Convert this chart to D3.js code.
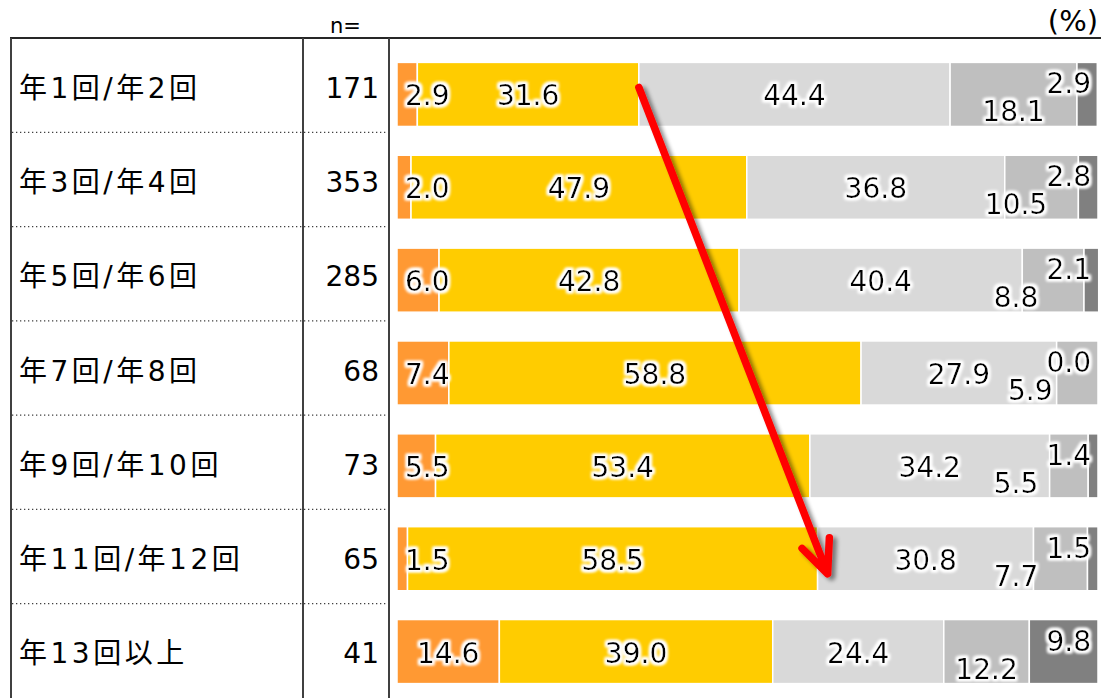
<!DOCTYPE html>
<html lang="ja">
<head>
<meta charset="utf-8">
<script src="https://cdn.jsdelivr.net/npm/d3@7"></script>
<style>
  html, body { margin: 0; padding: 0; background: #fff; }
  svg { display: block; }
  text { font-family: "DejaVu Sans", "Noto Sans CJK JP", sans-serif; }
</style>
</head>
<body>
<svg id="chart" width="1101" height="698"></svg>
<script>
// Purchase frequency groups and their sample sizes
const categories = ["年1回/年2回", "年3回/年4回", "年5回/年6回", "年7回/年8回", "年9回/年10回", "年11回/年12回", "年13回以上"];
const sampleSizes = [171, 353, 285, 68, 73, 65, 41];

// Share of answers (%) per group, one array per stacked segment
const series1 = [2.9, 2.0, 6.0, 7.4, 5.5, 1.5, 14.6];
const series2 = [31.6, 47.9, 42.8, 58.8, 53.4, 58.5, 39.0];
const series3 = [44.4, 36.8, 40.4, 27.9, 34.2, 30.8, 24.4];
const series4 = [18.1, 10.5, 8.8, 5.9, 5.5, 7.7, 12.2];
const series5 = [2.9, 2.8, 2.1, 0.0, 1.4, 1.5, 9.8];

const seriesList = [series1, series2, series3, series4, series5];
const seriesColors = ["#FF9933", "#FFCC00", "#D9D9D9", "#BFBFBF", "#808080"];

const svg = d3.select("#chart");
const W = 1101, H = 698;

const defs = svg.append("defs");
// soft white glow behind value labels
const halo = defs.append("filter").attr("id", "halo")
  .attr("x", "-30%").attr("y", "-50%").attr("width", "160%").attr("height", "200%");
halo.append("feMorphology").attr("in", "SourceAlpha").attr("operator", "dilate").attr("radius", 2).attr("result", "d");
halo.append("feGaussianBlur").attr("in", "d").attr("stdDeviation", 1.6).attr("result", "b");
halo.append("feFlood").attr("flood-color", "#fff");
halo.append("feComposite").attr("in2", "b").attr("operator", "in").attr("result", "glow");
const hm = halo.append("feMerge");
hm.append("feMergeNode").attr("in", "glow");
hm.append("feMergeNode").attr("in", "glow");
hm.append("feMergeNode").attr("in", "SourceGraphic");

// drop shadow for the trend arrow
const shadow = defs.append("filter").attr("id", "shadow")
  .attr("x", "-20%").attr("y", "-10%").attr("width", "140%").attr("height", "120%");
shadow.append("feGaussianBlur").attr("in", "SourceAlpha").attr("stdDeviation", 2.2).attr("result", "sb");
shadow.append("feOffset").attr("in", "sb").attr("dx", 4).attr("dy", 3).attr("result", "so");
shadow.append("feComponentTransfer").attr("in", "so").attr("result", "sa")
  .append("feFuncA").attr("type", "linear").attr("slope", 0.45);
const sm = shadow.append("feMerge");
sm.append("feMergeNode").attr("in", "sa");
sm.append("feMergeNode").attr("in", "SourceGraphic");

// table geometry
const tableTop = 38;
const colLeft = 11, colN = 303, colAxis = 389;

const rowScale = d3.scaleBand().domain(d3.range(categories.length)).range([tableTop, H]);
const barScale = d3.scaleBand().domain(d3.range(categories.length)).range([48, H])
  .paddingInner(0.31).paddingOuter(0.155);
const x = d3.scaleLinear().domain([0, 100]).range([397, 1098]);

// stacked layout
const rows = categories.map((c, i) => {
  let acc = 0;
  return seriesList.map((s, k) => {
    const seg = { row: i, k, v: s[i], x0: acc, x1: acc + s[i] };
    acc += s[i];
    return seg;
  });
});

// bars
const gBars = svg.append("g");
rows.forEach(segs => {
  gBars.selectAll(null).data(segs).enter().append("rect")
    .attr("x", d => x(d.x0))
    .attr("y", d => barScale(d.row))
    .attr("width", d => Math.max(0, x(d.x1) - x(d.x0)))
    .attr("height", barScale.bandwidth())
    .attr("fill", d => seriesColors[d.k])
    .attr("stroke", "#fff")
    .attr("stroke-width", d => d.v > 0 ? 1.5 : 0);
});

// table lines
const gLines = svg.append("g");
gLines.append("line").attr("x1", 10).attr("x2", W).attr("y1", tableTop).attr("y2", tableTop)
  .attr("stroke", "#262626").attr("stroke-width", 1.8);
[colLeft, colN, colAxis].forEach(cx => {
  gLines.append("line").attr("x1", cx).attr("x2", cx).attr("y1", tableTop).attr("y2", H)
    .attr("stroke", "#404040").attr("stroke-width", 2);
});
gLines.selectAll(null).data(d3.range(1, categories.length)).enter().append("line")
  .attr("x1", colLeft + 1).attr("x2", colAxis - 1)
  .attr("y1", d => rowScale(d)).attr("y2", d => rowScale(d))
  .attr("stroke", "#404040").attr("stroke-width", 1.3).attr("stroke-dasharray", "1.3,2.7");

// header texts
svg.append("text").attr("x", 330).attr("y", 33).attr("font-size", 21).attr("fill", "#000").text("n=");
svg.append("text").attr("x", 1098).attr("y", 31).attr("font-size", 29).attr("text-anchor", "end")
  .attr("fill", "#000").text("(%)");

// category and sample size columns
const gTable = svg.append("g");
gTable.selectAll(null).data(categories).enter().append("text")
  .attr("x", 19)
  .attr("y", (d, i) => rowScale(i) + rowScale.bandwidth() / 2 + 3)
  .attr("dominant-baseline", "central")
  .attr("font-size", 28)
  .attr("letter-spacing", 3.5)
  .attr("fill", "#000")
  .text(d => d);
gTable.selectAll(null).data(sampleSizes).enter().append("text")
  .attr("x", 379)
  .attr("y", (d, i) => rowScale(i) + rowScale.bandwidth() / 2 + 3)
  .attr("dominant-baseline", "central")
  .attr("text-anchor", "end")
  .attr("font-size", 28)
  .attr("fill", "#000")
  .text(d => d);

// value labels
const gLabels = svg.append("g").attr("filter", "url(#halo)");
rows.forEach(segs => {
  let prevRight = -Infinity;
  segs.forEach(d => {
    const cy = barScale(d.row) + barScale.bandwidth() / 2 + 1.5;
    const cx = (x(d.x0) + x(d.x1)) / 2;
    const t = gLabels.append("text")
      .attr("font-size", 28)
      .attr("fill", "#000")
      .attr("dominant-baseline", "central")
      .text(d.v.toFixed(1));
    const w = t.node().getComputedTextLength();
    let lx = cx, ly = cy, anchor = "middle";
    if (d.k === 0) {
      // keep narrow first segments readable just inside the bar start
      lx = Math.max(cx, x(0) + 8 + w / 2);
    } else if (d.k === 3) {
      // tucked below, clear of the neighbouring label
      lx = Math.min(cx, x(100) - 82);
      lx = Math.max(lx, prevRight + 18 + w / 2);
      ly = cy + 16;
    } else if (d.k === 4) {
      lx = x(100) - 7;
      ly = cy - 12;
      anchor = "end";
    }
    t.attr("x", lx).attr("y", ly).attr("text-anchor", anchor);
    if (anchor === "middle") prevRight = lx + w / 2;
  });
});

// trend arrow: from the end of the second segment in the first group
// to the end of the second segment in the 年11回/年12回 group
const startRow = 0, endRow = 5;
const ax1 = x(rows[startRow][1].x1), ay1 = barScale(startRow) + barScale.bandwidth() / 2 - 7;
const ax2 = x(rows[endRow][1].x1) + 10, ay2 = barScale(endRow) + barScale.bandwidth() / 2 + 15;
const ang = Math.atan2(ay1 - ay2, ax1 - ax2);
const wing = 36, spread = 24 * Math.PI / 180;
const gArrow = svg.append("g").attr("filter", "url(#shadow)");
const arrowPath = d3.path();
arrowPath.moveTo(ax1, ay1);
arrowPath.lineTo(ax2, ay2);
arrowPath.moveTo(ax2 + wing * Math.cos(ang - spread), ay2 + wing * Math.sin(ang - spread));
arrowPath.lineTo(ax2, ay2);
arrowPath.lineTo(ax2 + wing * Math.cos(ang + spread), ay2 + wing * Math.sin(ang + spread));
gArrow.append("path").attr("d", arrowPath.toString())
  .attr("fill", "none").attr("stroke", "#FF0000").attr("stroke-width", 7.5)
  .attr("stroke-linecap", "round").attr("stroke-linejoin", "round");
</script>
</body>
</html>
